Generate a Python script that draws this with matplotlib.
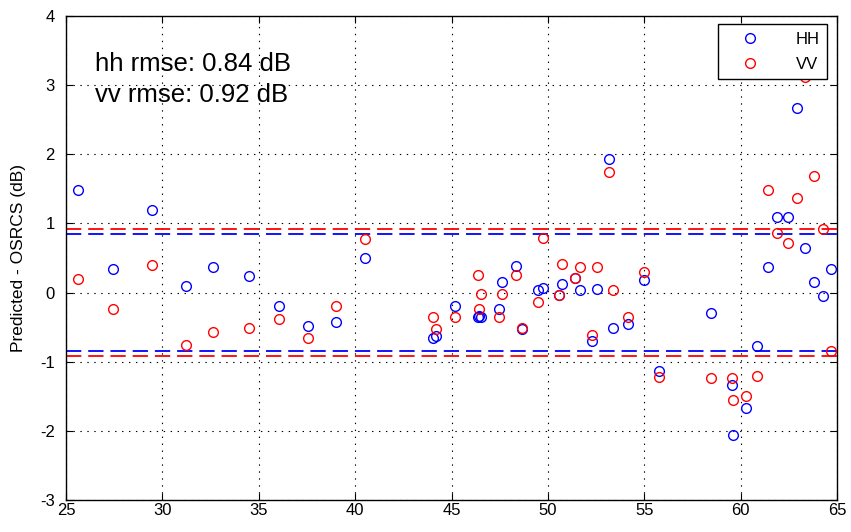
import matplotlib
matplotlib.use('Agg')
import matplotlib.pyplot as plt
import numpy as np

# incidence angle (deg) and residuals (dB)
angle = [25.6, 27.45, 29.46, 31.22, 32.65, 34.5, 36.04, 37.55, 39.02, 40.49,
         44.03, 44.2, 45.16, 46.35, 46.43, 46.52, 47.45, 47.63, 48.37, 48.68,
         49.5, 49.75, 50.6, 50.72, 51.4, 51.67, 52.29, 52.56, 53.19, 53.36,
         54.15, 54.98, 55.78, 58.44, 59.54, 59.61, 60.3, 60.85, 61.41, 61.89,
         62.44, 62.93, 63.34, 63.81, 64.29, 64.69]
hh = [1.49, 0.34, 1.19, 0.095, 0.375, 0.24, -0.19, -0.48, -0.43, 0.50,
      -0.65, -0.63, -0.20, -0.35, -0.34, -0.35, -0.24, 0.15, 0.385, -0.53,
      0.03, 0.06, -0.04, 0.13, 0.21, 0.03, -0.70, 0.05, 1.93, -0.51,
      -0.45, 0.18, -1.13, -0.30, -1.34, -2.06, -1.67, -0.77, 0.375, 1.10,
      1.10, 2.67, 0.645, 0.15, -0.05, 0.34]
vv = [0.19, -0.24, 0.40, -0.76, -0.57, -0.51, -0.38, -0.65, -0.20, 0.77,
      -0.35, -0.53, -0.35, 0.25, -0.24, -0.02, -0.35, -0.02, 0.25, -0.51,
      -0.14, 0.79, -0.03, 0.42, 0.21, 0.375, -0.61, 0.375, 1.74, 0.03,
      -0.36, 0.30, -1.22, -1.23, -1.23, -1.55, -1.50, -1.21, 1.49, 0.86,
      0.71, 1.37, 3.12, 1.68, 0.92, -0.84]
hh_rmse = 0.84
vv_rmse = 0.92

plt.rcParams['font.family'] = ['Liberation Sans Narrow', 'Liberation Sans', 'DejaVu Sans']
plt.rcParams['lines.scale_dashes'] = False
plt.rcParams['axes.unicode_minus'] = False

sans = ['Liberation Sans', 'DejaVu Sans']

fig = plt.figure(figsize=(8.51, 5.32), dpi=100)
ax = fig.add_axes([66/851, 32/532, 771/851, 484/532])

ax.plot(angle, hh, 'o', mfc='none', mec='#0000ff', ms=7, mew=1, label='HH', clip_on=False, zorder=3)
ax.plot(angle, vv, 'o', mfc='none', mec='#ff0000', ms=7, mew=1, label='VV', clip_on=False, zorder=3)

for r, c in [(hh_rmse, '#0000ff'), (vv_rmse, '#ff0000')]:
    for s in (1, -1):
        ax.axhline(s * r, color=c, lw=1.3, dashes=(11, 5), zorder=2)

ax.set_xlim(25, 65)
ax.set_ylim(-3, 4)
ax.set_xticks(np.arange(25, 66, 5))
ax.set_yticks(np.arange(-3, 5, 1))
ax.grid(True, color='black', linestyle=(0, (1, 4)), lw=0.8)
ax.tick_params(direction='in', length=5, labelsize=12, top=True, right=True,
               labeltop=False, labelright=False)
ax.tick_params(axis='y', pad=8)
ax.tick_params(axis='x', pad=2)
for sp in ax.spines.values():
    sp.set_linewidth(1)
ax.set_ylabel('Predicted - OSRCS (dB)', fontsize=12.5, family=sans, labelpad=10)

ax.text(26.5, 3.21, 'hh rmse: %.2f dB' % hh_rmse, fontsize=18.5, va='baseline', family=sans)
ax.text(26.5, 2.75, 'vv rmse: %.2f dB' % vv_rmse, fontsize=18.5, va='baseline', family=sans)

leg = ax.legend(loc='upper right', bbox_to_anchor=(0.987, 0.983), fancybox=False,
                framealpha=1, edgecolor='black', borderaxespad=0,
                prop={'family': sans, 'size': 12}, handlelength=3,
                handletextpad=1.2, borderpad=0.45, labelspacing=0.6)
leg.get_frame().set_linewidth(1)

fig.savefig('out.png', dpi=100)
